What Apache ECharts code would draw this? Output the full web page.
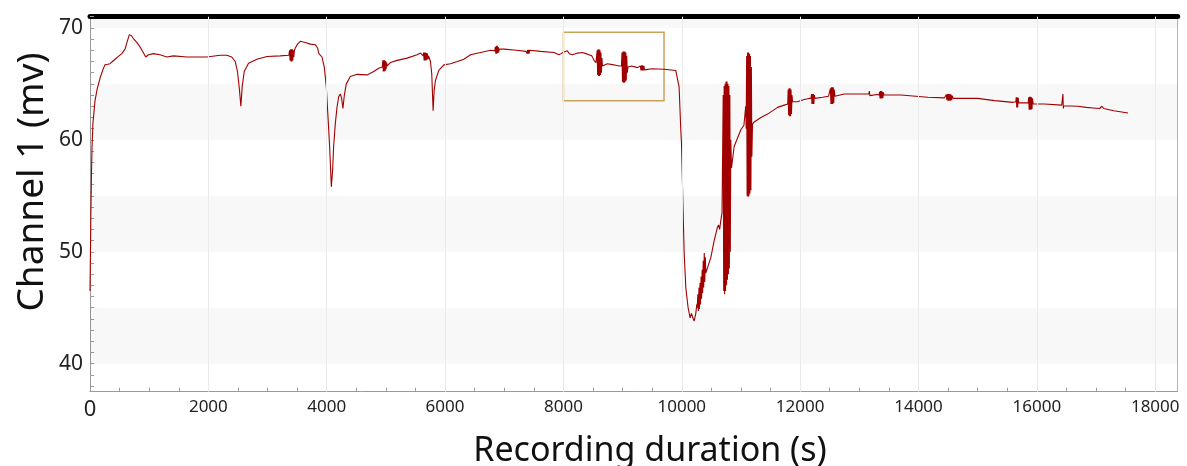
<!DOCTYPE html>
<html><head><meta charset="utf-8">
<script src="https://cdn.jsdelivr.net/npm/echarts@6/dist/echarts.min.js"></script>
<style>html,body{margin:0;padding:0;background:#fff}#c{width:1187px;height:466px}</style>
</head><body><div id="c"></div>
<script>
// ---- tick labels / ticks ----
const xTickLabels = [0,2000,4000,6000,8000,10000,12000,14000,16000,18000];
const xMinorTicks = [0,500,1000,1500,2000,2500,3000,3500,4000,4500,5000,5500,6000,6500,7000,7500,8000,8500,9000,9500,10000,10500,11000,11500,12000,12500,13000,13500,14000,14500,15000,15500,16000,16500,17000,17500,18000];
const yTickLabels = [40,50,60,70];
const yMinorTicks = [38,39,40,41,42,43,44,45,46,47,48,49,50,51,52,53,54,55,56,57,58,59,60,61,62,63,64,65,66,67,68,69,70,71];
const bandRanges = [[70,71],[60,65],[50,55],[40,45]];
const highlightBox = [[8000,69.6],[9700,63.5]];

// ---- trace segments [time (s), mV] ----
const segRise = [[0,46.5],[8,50],[15,53.5],[25,57],[34,59.3],[50,61.5],[85,63.5],[120,64.5],[169,65.5],[220,66.3],[254,66.7],[300,66.75],[338,66.8],[380,67.0],[423,67.2],[480,67.45],[536,67.7],[592,68.1],[630,68.8],[665,69.4],[700,69.3],[733,69.05],[790,68.7],[846,68.3],[900,67.8],[942,67.4],[987,67.6],[1071,67.7],[1184,67.6],[1297,67.4],[1410,67.5],[1635,67.4],[1973,67.4],[2198,67.55],[2312,67.55],[2396,67.4]];

const segDips = [[2453,67.0],[2492,66.1],[2526,64.45],[2549,63.0],[2572,64.75],[2606,66.1],[2679,66.85],[2820,67.2],[2990,67.45],[3215,67.5],[3360,67.55],
[3372,68.0],[3380,67.1],[3388,68.1],[3396,67.0],[3404,68.1],[3412,67.0],[3420,68.1],[3428,67.1],[3436,68.0],[3444,67.4],[3455,68.0],
[3469,68.2],[3508,68.55],[3553,68.8],[3638,68.7],[3722,68.55],[3807,68.5],[3846,68.2],[3868,67.7],[3919,67.4],[3959,66.5],[3993,64.75],[4021,62.1],[4049,59.4],[4066,57.3],[4078,55.8],[4100,57.3],[4117,59.4],[4146,61.5],[4174,62.9],[4202,63.85],[4230,64.1],[4252,63.7],[4274,62.8],[4298,64.0],[4331,65.0],[4399,65.65],[4512,65.85],[4681,65.8],[4794,66.1],[4878,66.4],
[4940,66.5],[4948,67.1],[4956,66.1],[4964,67.1],[4972,66.1],[4980,67.1],[4988,66.15],[4996,67.05],[5004,66.3],[5012,66.9],[5022,66.6],
[5076,66.9],[5189,67.1],[5358,67.3],[5528,67.6],[5584,67.75],
[5630,67.5],[5638,67.8],[5646,67.1],[5654,67.8],[5662,67.1],[5670,67.8],[5678,67.1],[5686,67.75],[5694,67.15],[5702,67.7],[5712,67.2],[5722,67.5],[5740,67.2],
[5753,67.0],[5775,65.9],[5798,62.6],[5815,64.4],[5837,65.3],[5894,66.2],[5979,66.7],[6091,66.8],[6205,67.0],[6317,67.2],[6430,67.6]];

const segPlateau = [[6600,67.8],[6770,68.0],[6840,67.95],
[6850,68.3],[6858,67.7],[6866,68.4],[6874,67.7],[6882,68.4],[6890,67.75],[6898,68.3],[6906,67.8],[6915,68.1],
[7000,68.1],[7200,68.0],[7370,67.9],
[7380,68.05],[7388,67.7],[7396,68.05],[7404,67.7],[7412,68.05],[7420,67.7],[7428,68.0],[7440,67.85],
[7614,67.9],[7840,67.8],[7925,67.6],[7960,67.7],[8009,67.85],[8040,68.0],[8066,67.95],[8100,67.7],[8125,67.8],[8150,67.6],[8178,67.6],[8240,67.75],[8319,67.8],[8380,67.7],[8432,67.6],[8480,67.5],[8517,67.1],[8550,66.9],
[8560,67.0],[8570,68.0],[8578,65.8],[8586,68.1],[8594,65.7],[8602,68.1],[8610,65.7],[8618,68.0],[8626,65.8],[8634,67.8],[8642,66.0],[8650,67.3],[8660,66.6],
[8742,66.8],[8850,66.7],[8939,66.6],
[8980,66.6],[8990,67.8],[8998,65.2],[9006,67.9],[9014,65.1],[9022,67.9],[9030,65.1],[9038,67.9],[9046,65.2],[9054,67.8],[9062,65.3],[9070,67.5],[9080,66.0],[9090,66.5],
[9150,66.6],[9250,66.45],
[9300,66.6],[9310,66.2],[9320,66.65],[9330,66.2],[9340,66.65],[9350,66.2],[9360,66.6],[9370,66.25],[9385,66.4],
[9500,66.35],[9701,66.3],[9898,66.2]];

const segCrash = [[9915,66.1],[9955,64.7],[9983,60.9],[9995,59.7],[10022,53.7],[10039,50.1],[10068,46.8],[10107,45.0],[10141,44.1],[10163,44.5],[10181,44.2],[10209,43.8],[10237,44.5],[10254,45.3],
[10260,45.0],[10272,46.2],[10280,44.7],[10290,46.8],[10298,44.9],[10308,47.2],[10316,45.3],[10326,47.8],[10334,45.8],[10344,48.4],[10352,46.3],[10362,49.2],[10370,46.8],[10380,49.9],[10388,47.3],[10398,49.5],[10406,48.1],
[10491,49.5],[10547,51.0],[10603,52.2],[10620,52.4],[10640,52.0],[10660,52.8],[10680,53.5],
[10690,53.5],[10700,64.0],[10708,46.5],[10716,64.8],[10724,46.2],[10732,65.0],[10740,46.5],[10748,65.2],[10756,47.0],[10764,65.2],[10772,47.5],[10780,65.0],[10788,48.0],[10796,64.8],[10804,48.5],[10812,64.0],[10820,50.0],[10828,60.0],[10840,57.5],
[10885,59.4],[10998,60.9],[11050,61.3],
[11070,61.3],[11080,63.0],[11088,61.0],[11096,67.5],[11104,55.0],[11112,67.8],[11120,54.9],[11128,67.8],[11136,55.0],[11144,67.7],[11152,55.2],[11160,67.5],[11168,55.5],[11176,66.5],[11184,58.5],[11195,61.4],
[11224,61.6]];

const segRecovery = [[11337,62.0],[11449,62.3],[11619,62.9],[11731,63.1],
[11790,63.2],[11798,64.5],[11806,62.2],[11814,64.6],[11822,62.1],[11830,64.6],[11838,62.1],[11846,64.5],[11854,62.3],[11862,64.0],[11872,63.4],
[11950,63.4],[12070,63.6],[12150,63.7],
[12185,63.7],[12192,64.1],[12200,63.2],[12208,64.1],[12216,63.2],[12224,64.1],[12232,63.2],[12240,64.0],[12250,63.7],
[12381,63.8],[12480,63.9],
[12505,63.9],[12512,64.6],[12520,63.2],[12528,64.7],[12536,63.2],[12544,64.7],[12552,63.2],[12560,64.7],[12568,63.3],[12576,64.5],[12588,63.9],
[12746,64.1],[13029,64.1],[13160,64.1],[13170,64.35],[13178,63.95],[13190,64.1],[13300,64.05],
[13335,64.0],[13342,64.3],[13350,63.7],[13358,64.35],[13366,63.7],[13374,64.35],[13382,63.7],[13390,64.3],[13398,63.75],[13406,64.25],[13416,64.0],
[13705,64.0],[14157,63.8],[14440,63.75],
[14460,63.8],[14470,64.05],[14480,63.55],[14490,64.1],[14500,63.5],[14510,64.1],[14520,63.5],[14530,64.1],[14540,63.5],[14550,64.05],[14560,63.55],[14570,63.95],[14585,63.7],
[15003,63.7],[15285,63.5],[15600,63.35],
[15645,63.4],[15652,63.8],[15660,62.9],[15668,63.8],[15676,62.9],[15684,63.75],[15695,63.3],
[15820,63.3],
[15855,63.3],[15862,63.8],[15870,62.7],[15878,63.85],[15886,62.7],[15894,63.85],[15902,62.7],[15910,63.8],[15918,62.75],[15926,63.7],[15938,63.2],
[16131,63.2],[16420,63.1],[16435,63.1],[16441,64.1],[16447,62.8],[16453,63.05],
[16695,63.0],[16836,62.9],[16950,62.85],[17060,62.8],[17100,63.0],[17130,62.8],[17300,62.6],[17541,62.4]];

const trace = [].concat(segRise, segDips, segPlateau, segCrash, segRecovery);

const FONT = '"Noto Sans", "Open Sans", sans-serif';
const chart = echarts.init(document.getElementById('c'), null, {renderer: 'canvas'});
chart.setOption({
  animation: false,
  backgroundColor: '#fff',
  grid: {left: 90, top: 16.7, right: 9.3, bottom: 74.3},
  xAxis: [{
    type: 'value', min: 0, max: 18380, interval: 2000,
    axisLine: {onZero: false, lineStyle: {color: '#9a9a9a', width: 1}},
    axisTick: {inside: true, length: 4, customValues: xMinorTicks, lineStyle: {color: '#9a9a9a'}},
    axisLabel: {customValues: xTickLabels, fontFamily: FONT, fontSize: 17, color: '#222', margin: 7,
      formatter: v => v === 0 ? '{big|0}' : String(v),
      rich: {big: {fontSize: 22, fontFamily: FONT, color: '#222'}}},
    splitLine: {show: false}
  }, {
    type: 'value', min: 0, max: 18380, position: 'top',
    axisLine: {onZero: false, lineStyle: {color: '#000', width: 5}},
    axisTick: {show: false}, axisLabel: {show: false}, splitLine: {show: false}
  }],
  yAxis: [{
    type: 'value', min: 37.5, max: 71,
    axisLine: {show: true, onZero: false, lineStyle: {color: '#9a9a9a', width: 1}},
    axisTick: {show: true, inside: true, length: 4, customValues: yMinorTicks, lineStyle: {color: '#9a9a9a'}},
    axisLabel: {customValues: yTickLabels, fontFamily: FONT, fontSize: 21, color: '#222', margin: 7},
    splitLine: {show: false}
  }, {
    type: 'value', min: 37.5, max: 71, position: 'right',
    axisLine: {show: true, onZero: false, lineStyle: {color: '#b5b5b5', width: 1}},
    axisTick: {show: false}, axisLabel: {show: false}, splitLine: {show: false}
  }],
  series: [{
    type: 'line', data: [], z: 1, silent: true,
    markArea: {silent: true, itemStyle: {color: 'rgba(0,0,0,0.028)'},
      data: bandRanges.map(r => [{yAxis: r[0]}, {yAxis: r[1]}])},
    markLine: {silent: true, symbol: 'none', label: {show: false},
      lineStyle: {color: '#ebebeb', type: 'solid', width: 1},
      data: xTickLabels.filter(v => v > 0).map(v => ({xAxis: v}))}
  }, {
    type: 'line', data: trace, z: 3, showSymbol: false, symbol: 'none',
    lineStyle: {color: '#a00000', width: 1.1}
  }, {
    type: 'line', data: [], z: 4, silent: true,
    markArea: {silent: true, itemStyle: {color: 'rgba(0,0,0,0)', borderColor: '#c9a25a', borderWidth: 1.5},
      data: [[{coord: highlightBox[0]}, {coord: highlightBox[1]}]]}
  }],
  graphic: [{
    type: 'text', x: 650, y: 451,
    style: {text: 'Recording duration (s)', font: '34px ' + FONT, fill: '#111', align: 'center', verticalAlign: 'middle'}
  }, {
    type: 'text', x: 32, y: 182, rotation: Math.PI / 2,
    style: {text: 'Channel 1 (mv)', font: '37px ' + FONT, fill: '#111', align: 'center', verticalAlign: 'middle'}
  }]
});
</script></body></html>
